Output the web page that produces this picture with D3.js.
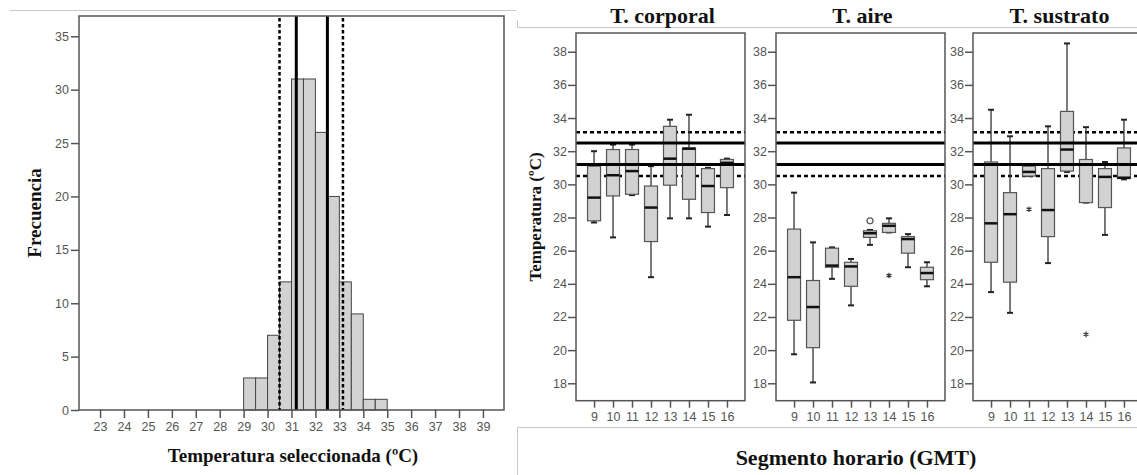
<!DOCTYPE html>
<html>
<head>
<meta charset="utf-8">
<script src="https://cdn.jsdelivr.net/npm/d3@7"></script>
<style>
  body { margin: 0; background: #fff; }
  .tick text { font-family: "Liberation Sans", sans-serif; font-size: 12.5px; fill: #555; }
  .title { font-family: "Liberation Serif", serif; font-weight: bold; fill: #111; }
</style>
</head>
<body>
<div id="chart"></div>
<script>
// Histogram data (bins of 0.5 ºC)
var histBinStart = [29, 29.5, 30, 30.5, 31, 31.5, 32, 32.5, 33, 33.5, 34, 34.5];
var histCounts   = [3, 3, 7, 12, 31, 31, 26, 20, 12, 9, 1, 1];
var histXTicks   = [23, 24, 25, 26, 27, 28, 29, 30, 31, 32, 33, 34, 35, 36, 37, 38, 39];
var histYTicks   = [0, 5, 10, 15, 20, 25, 30, 35];

// preferred temperature range: solid = central, dotted = outer
var refSolid  = [31.2, 32.5];
var refDotted = [30.5, 33.15];

// Box plots: [lower whisker, q1, median, q3, upper whisker] per hour
var hours = [9, 10, 11, 12, 13, 14, 15, 16];
var boxYTicks = [18, 20, 22, 24, 26, 28, 30, 32, 34, 36, 38];
var panelTitles = ["T. corporal", "T. aire", "T. sustrato"];

var corporal = [
  [27.7, 27.8, 29.2, 31.1, 32.0],
  [26.8, 29.3, 30.55, 32.1, 32.4],
  [29.35, 29.4, 30.8, 32.1, 32.4],
  [24.4, 26.55, 28.6, 29.9, 31.1],
  [27.95, 29.95, 31.55, 33.5, 33.9],
  [27.95, 29.1, 32.15, 32.2, 34.2],
  [27.45, 28.3, 29.9, 30.95, 31.0],
  [28.15, 29.8, 31.3, 31.5, 31.55]
];
var aire = [
  [19.75, 21.8, 24.4, 27.3, 29.5],
  [18.05, 20.15, 22.6, 24.2, 26.5],
  [24.3, 25.0, 25.1, 26.15, 26.2],
  [22.7, 23.85, 25.05, 25.3, 25.5],
  [26.35, 26.8, 27.05, 27.2, 27.25],
  [27.1, 27.1, 27.5, 27.65, 27.95],
  [25.0, 25.85, 26.7, 26.85, 27.0],
  [23.85, 24.25, 24.65, 25.0, 25.3]
];
var sustrato = [
  [23.5, 25.3, 27.65, 31.35, 34.5],
  [22.25, 24.1, 28.2, 29.5, 32.9],
  [30.5, 30.5, 30.75, 31.1, 31.1],
  [25.25, 26.85, 28.45, 30.95, 33.5],
  [30.75, 30.8, 32.1, 34.4, 38.5],
  [28.9, 28.9, 31.2, 31.5, 33.45],
  [26.95, 28.6, 30.45, 30.95, 31.35],
  [30.3, 30.35, 30.4, 32.2, 33.9]
];
// outliers: [hour, value, type]
var aireOutliers     = [[13, 27.8, "circle"], [14, 24.5, "star"]];
var sustratoOutliers = [[11, 28.5, "star"], [14, 20.95, "star"]];

var panelStats    = [corporal, aire, sustrato];
var panelOutliers = [[], aireOutliers, sustratoOutliers];

var W = 1137, H = 475;
var frameColor = "#555";

var svg = d3.select("#chart").append("svg")
    .attr("width", W)
    .attr("height", H);

// layout border lines of the original figure table
svg.append("path")
  .attr("d", "M10,10.5H516 M517.5,20V27.5H1137 M517.5,475V427.5H1137")
  .attr("fill", "none")
  .attr("stroke", "#c8c8c8")
  .attr("stroke-width", 1);

///////////////////////// Histogram /////////////////////////
var hx = d3.scaleLinear().domain([22.12, 39.88]).range([79, 504]);
var hy = d3.scaleLinear().domain([0, 36.9]).range([410, 16]);

svg.append("g")
  .selectAll("rect")
  .data(histCounts)
  .enter().append("rect")
  .attr("x", function(d, i) { return hx(histBinStart[i]); })
  .attr("y", function(d) { return hy(d); })
  .attr("width", function(d, i) { return hx(histBinStart[i] + 0.5) - hx(histBinStart[i]); })
  .attr("height", function(d) { return hy(0) - hy(d); })
  .style("fill", "#d2d2d2")
  .style("stroke", "#444")
  .style("stroke-width", 1);

// reference vertical lines
refSolid.forEach(function(v) {
  svg.append("line")
    .attr("x1", hx(v)).attr("x2", hx(v))
    .attr("y1", hy.range()[1]).attr("y2", hy(0))
    .style("stroke", "#000").style("stroke-width", 3);
});
refDotted.forEach(function(v) {
  svg.append("line")
    .attr("x1", hx(v)).attr("x2", hx(v))
    .attr("y1", hy.range()[1] + 2).attr("y2", hy(0))
    .style("stroke", "#000").style("stroke-width", 2.5)
    .style("stroke-dasharray", "3.5,2.5");
});

// frame
svg.append("rect")
  .attr("x", 79).attr("y", 16)
  .attr("width", 504 - 79).attr("height", 410 - 16)
  .style("fill", "none")
  .style("stroke", frameColor)
  .style("stroke-width", 1.5);

var hxAxis = svg.append("g")
  .attr("transform", "translate(0,410)")
  .call(d3.axisBottom(hx).tickValues(histXTicks).tickSize(8).tickPadding(4).tickSizeOuter(0));
var hyAxis = svg.append("g")
  .attr("transform", "translate(79,0)")
  .call(d3.axisLeft(hy).tickValues(histYTicks).tickSize(8).tickPadding(2).tickSizeOuter(0));
[hxAxis, hyAxis].forEach(function(a) {
  a.select(".domain").remove();
  a.selectAll(".tick line").style("stroke", frameColor).style("stroke-width", 1.5);
});

svg.append("text")
  .attr("class", "title")
  .attr("x", 293).attr("y", 462)
  .attr("text-anchor", "middle")
  .style("font-size", "19px")
  .text("Temperatura seleccionada (ºC)");

svg.append("text")
  .attr("class", "title")
  .attr("transform", "translate(41,213) rotate(-90)")
  .attr("text-anchor", "middle")
  .style("font-size", "19px")
  .text("Frecuencia");

///////////////////////// Box plots /////////////////////////
var panelLeft = [576, 776, 973];
var panelW = 169;
var by = d3.scaleLinear().domain([16.95, 39.13]).range([400.7, 33]);
var bx = d3.scalePoint().domain(hours).range([0, panelW]).padding(0.95);
var boxW = 13, capW = 6;

panelStats.forEach(function(stats, p) {
  var g = svg.append("g").attr("transform", "translate(" + panelLeft[p] + ",0)");

  // reference lines
  refDotted.forEach(function(v) {
    g.append("line")
      .attr("x1", 0).attr("x2", panelW)
      .attr("y1", by(v)).attr("y2", by(v))
      .style("stroke", "#000").style("stroke-width", 2.5)
      .style("stroke-dasharray", "4,3");
  });

  var box = g.selectAll(".box")
    .data(stats)
    .enter().append("g")
    .attr("class", "box")
    .attr("transform", function(d, i) { return "translate(" + bx(hours[i]) + ",0)"; });

  box.append("line")
    .attr("x1", 0).attr("x2", 0)
    .attr("y1", function(d) { return by(d[0]); })
    .attr("y2", function(d) { return by(d[4]); })
    .style("stroke", "#333").style("stroke-width", 1.3);
  box.append("line")
    .attr("x1", -capW / 2).attr("x2", capW / 2)
    .attr("y1", function(d) { return by(d[0]); })
    .attr("y2", function(d) { return by(d[0]); })
    .style("stroke", "#222").style("stroke-width", 2);
  box.append("line")
    .attr("x1", -capW / 2).attr("x2", capW / 2)
    .attr("y1", function(d) { return by(d[4]); })
    .attr("y2", function(d) { return by(d[4]); })
    .style("stroke", "#222").style("stroke-width", 2);
  box.append("rect")
    .attr("x", -boxW / 2)
    .attr("width", boxW)
    .attr("y", function(d) { return by(d[3]); })
    .attr("height", function(d) { return Math.max(1, by(d[1]) - by(d[3])); })
    .style("fill", "#d2d2d2")
    .style("stroke", "#555")
    .style("stroke-width", 1.2);
  box.append("line")
    .attr("x1", -boxW / 2).attr("x2", boxW / 2)
    .attr("y1", function(d) { return by(d[2]); })
    .attr("y2", function(d) { return by(d[2]); })
    .style("stroke", "#111").style("stroke-width", 2.5);

  // outliers
  panelOutliers[p].forEach(function(o) {
    if (o[2] === "circle") {
      g.append("circle")
        .attr("cx", bx(o[0])).attr("cy", by(o[1])).attr("r", 3)
        .style("fill", "#fff").style("stroke", "#555").style("stroke-width", 1.2);
    } else {
      g.append("path")
        .attr("transform", "translate(" + bx(o[0]) + "," + by(o[1]) + ")")
        .attr("d", d3.symbol().type(d3.symbolAsterisk).size(22))
        .style("fill", "none").style("stroke", "#333").style("stroke-width", 1.2);
    }
  });

  // solid reference lines on top
  refSolid.forEach(function(v) {
    g.append("line")
      .attr("x1", 0).attr("x2", panelW)
      .attr("y1", by(v)).attr("y2", by(v))
      .style("stroke", "#000").style("stroke-width", 3);
  });

  // frame
  g.append("rect")
    .attr("x", 0).attr("y", 33)
    .attr("width", panelW).attr("height", by.range()[0] - 33)
    .style("fill", "none")
    .style("stroke", frameColor)
    .style("stroke-width", 1.5);

  var xa = g.append("g")
    .attr("transform", "translate(0," + by.range()[0] + ")")
    .call(d3.axisBottom(bx).tickSize(7).tickPadding(4).tickSizeOuter(0));
  var ya = g.append("g")
    .call(d3.axisLeft(by).tickValues(boxYTicks).tickSize(8).tickPadding(1).tickSizeOuter(0));
  [xa, ya].forEach(function(a) {
    a.select(".domain").remove();
    a.selectAll(".tick line").style("stroke", frameColor).style("stroke-width", 1.5);
  });

  g.append("text")
    .attr("class", "title")
    .attr("x", panelW / 2 + 2).attr("y", 23)
    .attr("text-anchor", "middle")
    .style("font-size", "22px")
    .text(panelTitles[p]);
});

svg.append("text")
  .attr("class", "title")
  .attr("transform", "translate(541,217) rotate(-90)")
  .attr("text-anchor", "middle")
  .style("font-size", "17px")
  .text("Temperatura (ºC)");

svg.append("text")
  .attr("class", "title")
  .attr("x", 856).attr("y", 465)
  .attr("text-anchor", "middle")
  .style("font-size", "22px")
  .text("Segmento horario (GMT)");
</script>
</body>
</html>
